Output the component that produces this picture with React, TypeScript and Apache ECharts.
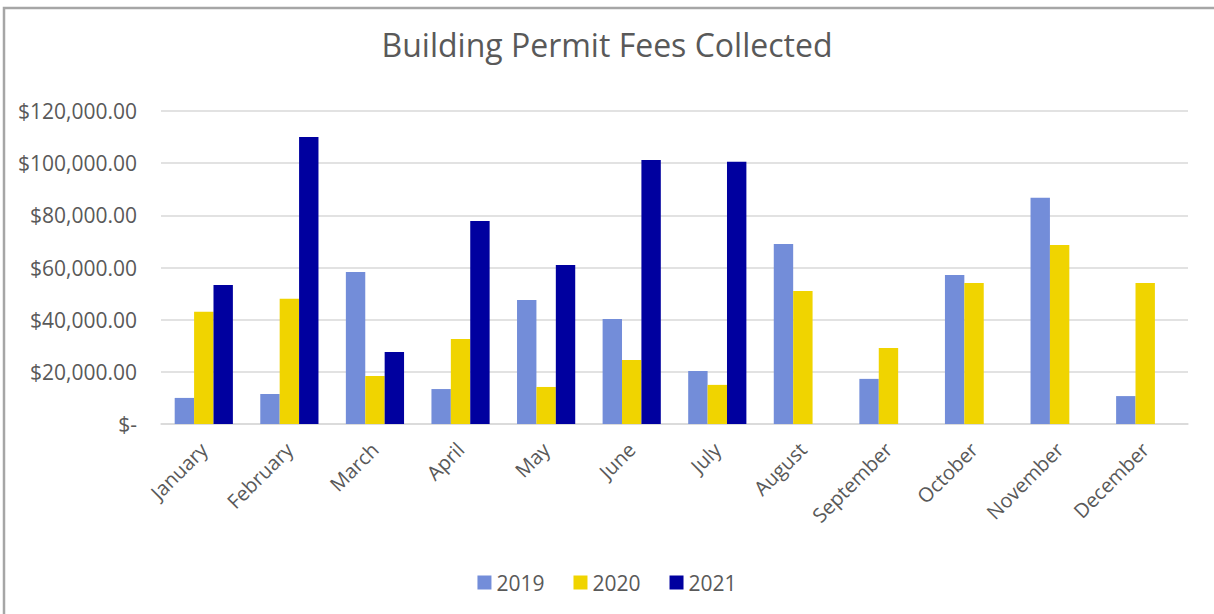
import React, { useEffect, useRef } from "react";
import * as echarts from "echarts";

const months = ["January", "February", "March", "April", "May", "June", "July", "August", "September", "October", "November", "December"];
const fees2019 = [10000, 11500, 58300, 13400, 47500, 40300, 20300, 69000, 17300, 57100, 86700, 10700];
const fees2020 = [43000, 48000, 18400, 32600, 14200, 24500, 15000, 51000, 29100, 54100, 68600, 54100];
const fees2021 = [53300, 110000, 27600, 77800, 61000, 101200, 100500, null, null, null, null, null];
const seriesNames = ["2019", "2020", "2021"];
const colors = ["#738dd9", "#f0d400", "#00009f"];

const fmt = (v: number) =>
  v === 0 ? "$-" : "$" + v.toLocaleString("en-US", { minimumFractionDigits: 2, maximumFractionDigits: 2 });

export default function App() {
  const ref = useRef<HTMLDivElement>(null);
  useEffect(() => {
    document.body.style.margin = "0";
    const chart = echarts.init(ref.current!, null, { renderer: "svg" });
    const font = "'Open Sans', 'Noto Sans', sans-serif";
    const data = [fees2019, fees2020, fees2021];
    chart.setOption({
      animation: false,
      backgroundColor: "#ffffff",
      textStyle: { fontFamily: font },
      title: {
        text: "Building Permit Fees Collected",
        left: "center",
        top: 23,
        textStyle: { fontFamily: font, fontSize: 32, fontWeight: "normal", color: "#595959" },
      },
      graphic: [
        {
          type: "rect",
          shape: { x: 4, y: 8, width: 1230, height: 640 },
          style: { fill: "none", stroke: "#a6a6a6", lineWidth: 2.5 },
          silent: true,
        },
      ],
      legend: {
        top: 567,
        left: "center",
        itemWidth: 14,
        itemHeight: 14,
        itemGap: 29,
        icon: "rect",
        textStyle: { fontFamily: font, fontSize: 21, color: "#595959" },
        data: seriesNames,
      },
      grid: { left: 161, right: 26, top: 111, bottom: 190 },
      xAxis: {
        type: "category",
        data: months,
        axisTick: { show: false },
        axisLine: { lineStyle: { color: "#d9d9d9", width: 1.5 } },
        axisLabel: { rotate: 45, fontFamily: font, fontSize: 20, color: "#595959", margin: 22, interval: 0 },
      },
      yAxis: {
        type: "value",
        min: 0,
        max: 120000,
        interval: 20000,
        axisLine: { show: false },
        axisTick: { show: false },
        splitLine: { lineStyle: { color: "#d9d9d9", width: 1.5 } },
        axisLabel: { formatter: fmt, fontFamily: font, fontSize: 21, color: "#595959", margin: 24 },
      },
      series: seriesNames.map((name, i) => ({
        name,
        type: "bar",
        data: data[i],
        itemStyle: { color: colors[i] },
        barGap: "0%",
        barCategoryGap: "32%",
      })),
    });
    return () => chart.dispose();
  }, []);
  return <div ref={ref} style={{ width: 1214, height: 614 }} />;
}
